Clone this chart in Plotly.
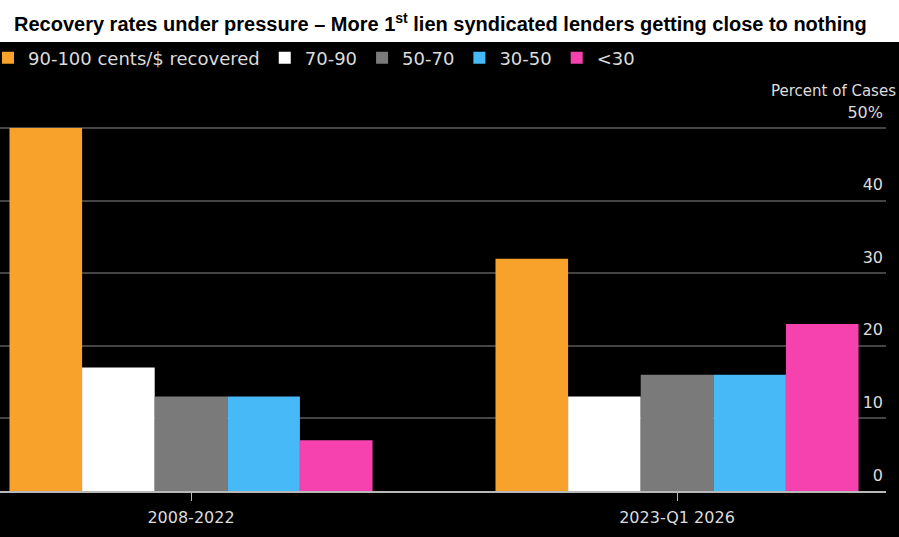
import plotly.graph_objects as go

periods = ["2008-2022", "2023-Q1 2026"]
buckets = ["90-100 cents/$ recovered", "70-90", "50-70", "30-50", "<30"]
share_90_100 = [50, 32]
share_70_90 = [17, 13]
share_50_70 = [13, 16]
share_30_50 = [13, 16]
share_under_30 = [7, 23]
colors = ["#F8A12B", "#FFFFFF", "#7A7A7A", "#46B9F6", "#F542AF"]

y_ticks = [0, 10, 20, 30, 40, 50]
y_ticktext = ["0", "10", "20", "30", "40", "50%"]

W, H = 899, 537
ml, mr, mt, mb = 0, 13, 94, 46
pw, ph = W - ml - mr, H - mt - mb
FONT = "DejaVu Sans"
px_per_unit = 363 / 50  # 0 sits at row 491, 50 at row 128
y_top = ph / px_per_unit


def py(px_from_top):
    # pixel row -> paper y
    return (H - mb - px_from_top) / ph


fig = go.Figure()
for name, vals, col in zip(buckets,
                           [share_90_100, share_70_90, share_50_70, share_30_50, share_under_30],
                           colors):
    fig.add_trace(go.Bar(x=periods, y=vals, name=name, marker_color=col,
                         marker_line_width=0))

# white title band
fig.add_shape(type="rect", xref="paper", yref="paper",
              x0=-0.01, x1=1.03, y0=py(42), y1=py(-2),
              fillcolor="white", line_width=0, layer="above")

fig.add_annotation(text="<b>Recovery rates under pressure \u2013 More 1<sup>st</sup> lien syndicated lenders getting close to nothing</b>",
                   xref="paper", yref="paper", x=12 / pw, y=py(22),
                   xanchor="left", yanchor="middle", showarrow=False,
                   font=dict(family="Liberation Sans", size=20, color="black"))

fig.add_annotation(text="Percent of Cases", xref="paper", yref="paper",
                   x=898 / pw, y=py(91), xanchor="right", yanchor="middle",
                   showarrow=False,
                   font=dict(family=FONT, size=15, color="#dcdcdc"))

fig.update_layout(
    width=W, height=H, autosize=False,
    margin=dict(l=ml, r=mr, t=mt, b=mb, autoexpand=False),
    paper_bgcolor="black", plot_bgcolor="black",
    barmode="group", bargap=0.253, bargroupgap=0,
    font=dict(family=FONT, color="#dcdcdc"),
    legend=dict(orientation="h", x=-12 / pw, xanchor="left", y=py(58), yanchor="middle",
                font=dict(size=18, color="#dcdcdc"), bgcolor="rgba(0,0,0,0)",
                itemwidth=30, tracegroupgap=0),
    showlegend=True,
)

fig.update_xaxes(range=[-0.393, 1.43], showgrid=False,
                 showline=True, linecolor="#b8b8b8", linewidth=2,
                 ticks="outside", ticklen=8, tickcolor="#b8b8b8", tickwidth=1,
                 ticklabelstandoff=3,
                 tickfont=dict(size=16, color="#dcdcdc"))

fig.update_yaxes(range=[0, y_top], side="right", tickvals=y_ticks, ticktext=y_ticktext,
                 ticklabelposition="inside", ticklabelshift=-16, ticklabelstandoff=0,
                 showgrid=True, gridcolor="#444444", gridwidth=2,
                 zeroline=False, showline=False,
                 tickfont=dict(size=16, color="#dcdcdc"))

fig.write_html("out.html", config={"displayModeBar": False},
               post_script="document.body.style.margin='0';document.body.style.background='black';")
